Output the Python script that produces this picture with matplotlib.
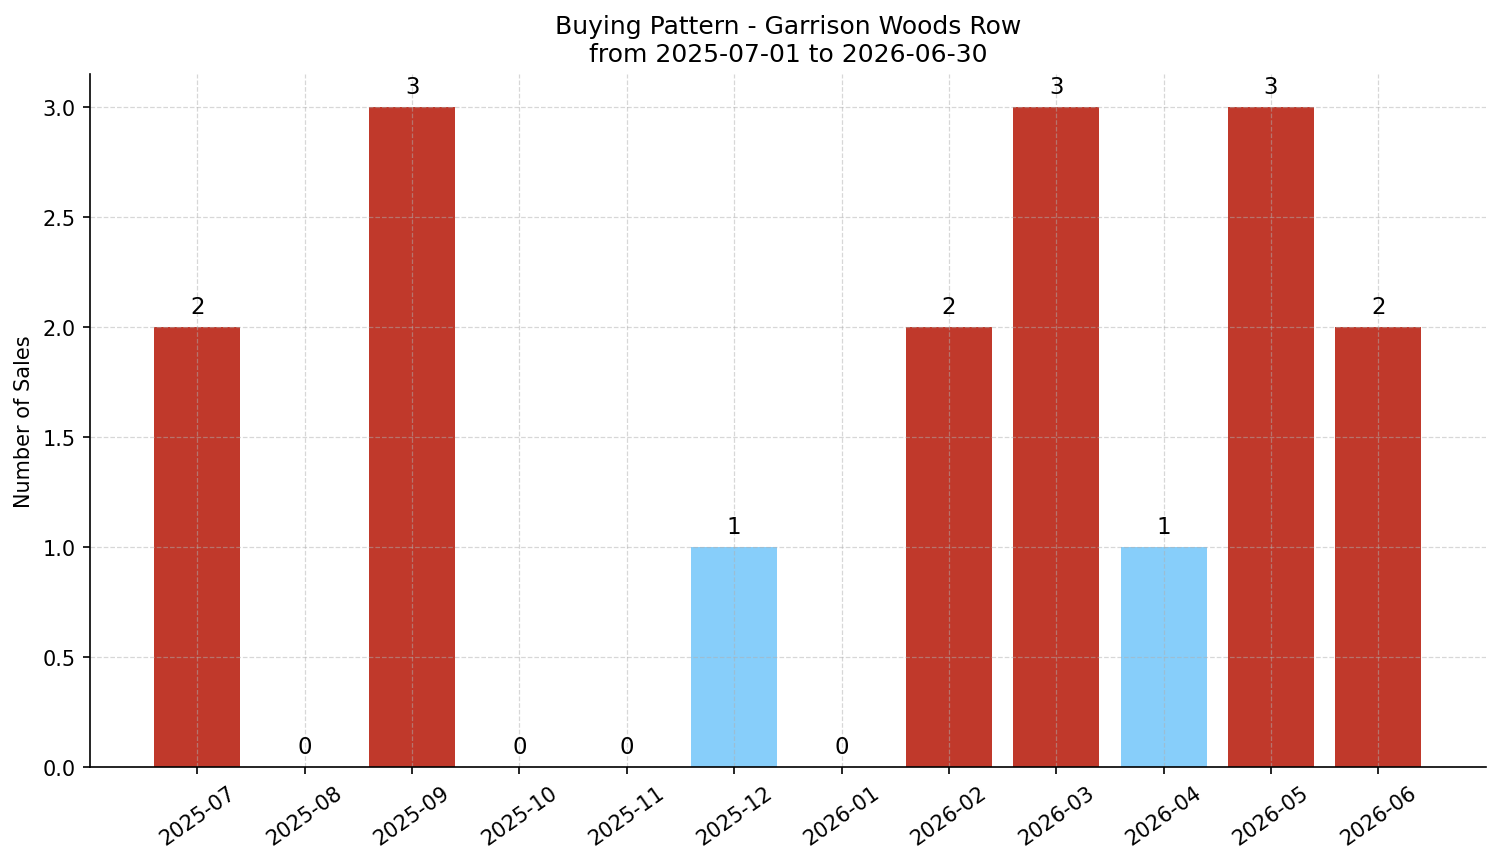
import matplotlib
matplotlib.use("Agg")
import matplotlib.pyplot as plt

months = ["2025-07", "2025-08", "2025-09", "2025-10", "2025-11", "2025-12",
          "2026-01", "2026-02", "2026-03", "2026-04", "2026-05", "2026-06"]
sales = [2, 0, 3, 0, 0, 1, 0, 2, 3, 1, 3, 2]

colors = ["#87cefa" if v <= 1 else "#c0392b" for v in sales]

fig, ax = plt.subplots(figsize=(10.0, 5.753), dpi=150)
x = list(range(len(months)))
bars = ax.bar(x, sales, width=0.8, color=colors)
for xi, v in zip(x, sales):
    ax.text(xi, v + 0.04, str(v), ha="center", va="bottom", fontsize=11)

ax.set_xticks(x)
ax.set_xticklabels(months, rotation=35, ha="center")
ax.set_xlim(-1, 12)
ax.set_ylabel("Number of Sales")
ax.set_title("Buying Pattern - Garrison Woods Row\nfrom 2025-07-01 to 2026-06-30", fontsize=12)
ax.grid(True, linestyle="--", linewidth=0.6, alpha=0.5)
ax.spines["top"].set_visible(False)
ax.spines["right"].set_visible(False)
fig.subplots_adjust(left=0.06, right=0.9905, top=0.9137, bottom=0.1098)
fig.savefig("out.png", dpi=150)
